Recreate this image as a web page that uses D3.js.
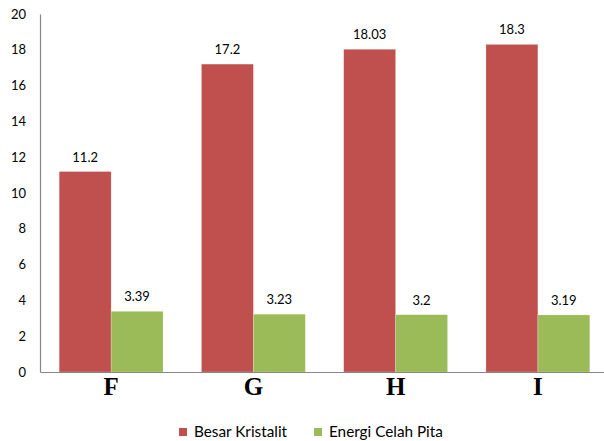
<!DOCTYPE html>
<html>
<head>
<meta charset="utf-8">
<script src="https://cdn.jsdelivr.net/npm/d3@7"></script>
<style>
  html, body { margin: 0; padding: 0; background: #fff; }
  svg { display: block; }
</style>
</head>
<body>
<svg id="chart" width="604" height="441"></svg>
<script>
// Sample categories and the two measured series
const categories = ["F", "G", "H", "I"];
const besarKristalit = [11.2, 17.2, 18.03, 18.3];
const energiCelahPita = [3.39, 3.23, 3.2, 3.19];
const seriesNames = ["Besar Kristalit", "Energi Celah Pita"];
const seriesColors = ["#C0504D", "#9BBB59"];
const yTicks = [0, 2, 4, 6, 8, 10, 12, 14, 16, 18, 20];

const series = [besarKristalit, energiCelahPita];

const svg = d3.select("#chart");
const plotLeft = 40, plotRight = 609, plotTop = 14, plotBottom = 372;
const labelFont = "Lato, 'Open Sans', sans-serif";

const x = d3.scaleBand().domain(categories).range([plotLeft, plotRight])
  .paddingInner(0.27).paddingOuter(0.135);
const xs = d3.scaleBand().domain(d3.range(series.length)).range([0, x.bandwidth()]);
const y = d3.scaleLinear().domain([0, 20]).range([plotBottom, plotTop]);

// Bars
const groups = svg.append("g").selectAll("g")
  .data(categories).join("g")
  .attr("transform", c => `translate(${x(c)},0)`);

groups.selectAll("rect")
  .data((c, i) => series.map((s, k) => ({ k, v: s[i] })))
  .join("rect")
  .attr("x", d => xs(d.k))
  .attr("width", xs.bandwidth())
  .attr("y", d => y(d.v))
  .attr("height", d => y(0) - y(d.v))
  .attr("fill", d => seriesColors[d.k])
  .attr("stroke", "#fff")
  .attr("stroke-opacity", 0.35)
  .attr("stroke-width", 0.6);

// Value labels above bars
groups.selectAll("text")
  .data((c, i) => series.map((s, k) => ({ k, v: s[i] })))
  .join("text")
  .attr("x", d => xs(d.k) + xs.bandwidth() / 2)
  .attr("y", d => y(d.v) - 10)
  .attr("text-anchor", "middle")
  .attr("font-family", labelFont)
  .attr("font-size", 13)
  .attr("fill", "#000")
  .text(d => d.v);

// Y axis
const yAxis = d3.axisLeft(y).tickValues(yTicks).tickSize(0).tickPadding(14)
  .tickFormat(d3.format("d"));
const gy = svg.append("g").attr("transform", `translate(${plotLeft},0)`).call(yAxis);
gy.select(".domain").attr("stroke", "#868686").attr("stroke-width", 1.2);
gy.selectAll("text").attr("font-family", labelFont).attr("font-size", 13).attr("fill", "#000");

// X axis
const xAxis = d3.axisBottom(x).tickSize(0).tickPadding(5);
const gx = svg.append("g").attr("transform", `translate(0,${plotBottom})`).call(xAxis);
gx.select(".domain").attr("stroke", "#868686").attr("stroke-width", 1.2);
gx.selectAll("text")
  .attr("font-family", "'Liberation Serif', 'Times New Roman', serif")
  .attr("font-weight", "bold")
  .attr("font-size", 25)
  .attr("fill", "#000");

// Legend
const legendX = [179, 314];
const legend = svg.append("g").selectAll("g")
  .data(seriesNames).join("g")
  .attr("transform", (d, i) => `translate(${legendX[i]},428)`);
legend.append("rect")
  .attr("width", 8).attr("height", 8)
  .attr("fill", (d, i) => seriesColors[i]);
legend.append("text")
  .attr("x", 15).attr("y", 9)
  .attr("font-family", labelFont)
  .attr("font-size", 15.3)
  .attr("fill", "#000")
  .text(d => d);
</script>
</body>
</html>
